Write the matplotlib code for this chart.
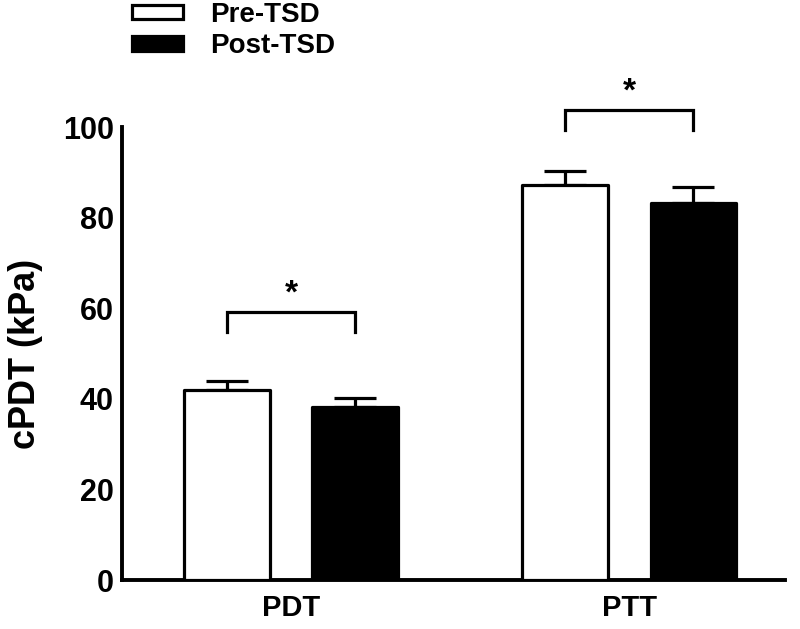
import matplotlib
matplotlib.use("Agg")
import matplotlib.pyplot as plt
import numpy as np

categories = ["PDT", "PTT"]
series_names = ["Pre-TSD", "Post-TSD"]
pre_values = [41.9, 87.2]
pre_errors = [2.0, 3.1]
post_values = [38.2, 83.2]
post_errors = [2.0, 3.6]
bracket_tops = [59.2, 103.8]
bracket_drop = 4.5
star_labels = ["*", "*"]
yticks = [0, 20, 40, 60, 80, 100]

plt.rcParams['font.family'] = ['Liberation Sans', 'DejaVu Sans']
plt.rcParams['font.weight'] = 'bold'

fig = plt.figure(figsize=(8.0, 6.29), dpi=100)
ax = fig.add_axes([0.1525, 0.0779, 0.981 - 0.1525, 0.798 - 0.0779])

x = np.arange(len(categories))
offset = 0.19
width = 0.254
lw = 2.3

b1 = ax.bar(x - offset, pre_values, width, color='white', edgecolor='black',
            linewidth=lw, joinstyle='round', zorder=3, label=series_names[0])
b2 = ax.bar(x + offset, post_values, width, color='black', edgecolor='black',
            linewidth=lw, joinstyle='round', zorder=3, label=series_names[1])

ax.errorbar(x - offset, pre_values, yerr=[np.zeros(len(x)), pre_errors], fmt='none',
            ecolor='black', elinewidth=lw, capsize=14.8, capthick=lw, zorder=2)
ax.errorbar(x + offset, post_values, yerr=[np.zeros(len(x)), post_errors], fmt='none',
            ecolor='black', elinewidth=lw, capsize=14.8, capthick=lw, zorder=2)

for xi, top, s in zip(x, bracket_tops, star_labels):
    xl, xr = xi - offset, xi + offset
    ax.plot([xl, xl, xr, xr], [top - bracket_drop, top, top, top - bracket_drop],
            color='black', linewidth=lw, clip_on=False, solid_joinstyle='miter')
    ax.text(xi, top + 0.6, s, ha='center', va='bottom', fontsize=24,
            fontweight='bold', clip_on=False)

ax.set_xlim(-0.5, 1.46)
ax.set_ylim(0, 100)
ax.set_yticks(yticks)
ax.set_yticklabels([str(t) for t in yticks], fontsize=22, fontweight='bold')
ax.set_xticks(x)
ax.set_xticklabels(categories, fontsize=21, fontweight='bold')
ax.tick_params(axis='both', length=0, pad=6)
ax.tick_params(axis='x', pad=10)
for side in ['top', 'right']:
    ax.spines[side].set_visible(False)
for side in ['left', 'bottom']:
    ax.spines[side].set_linewidth(2.8)
ax.set_ylabel("cPDT (kPa)", fontsize=26, fontweight='bold', labelpad=14)

leg = fig.legend(handles=[b1, b2], labels=series_names, loc='upper left',
                 bbox_to_anchor=(0.165, 0.997), bbox_transform=fig.transFigure,
                 frameon=False, prop={'weight': 'bold', 'size': 20},
                 handlelength=1.84, handleheight=0.43, labelspacing=0.2,
                 handletextpad=0.97, borderaxespad=0, borderpad=0)

fig.savefig("out.png", dpi=100)
